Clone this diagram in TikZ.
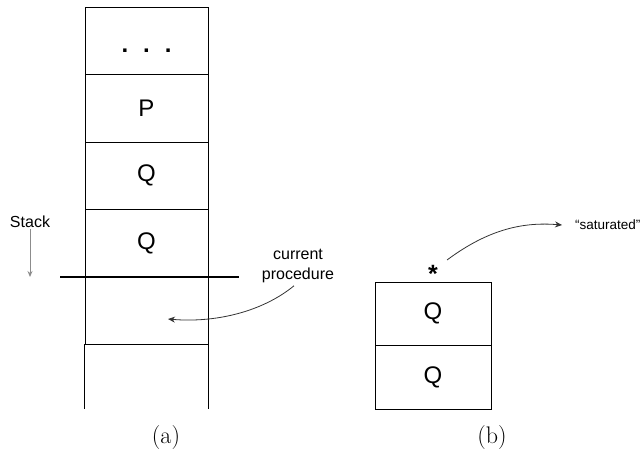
\documentclass[tikz,border=0pt]{standalone}
\usepackage{fontspec}
\setsansfont{Liberation Sans}
\usetikzlibrary{arrows.meta}

\begin{document}
\begin{tikzpicture}[x=1pt,y=-1pt,
  cellbig/.style={draw, line width=1pt, minimum width=123pt, minimum height=67.5pt,
    inner sep=0pt, font=\sffamily\fontsize{24}{28}\selectfont},
  cellsmall/.style={draw, line width=1pt, minimum width=116pt, minimum height=63.5pt,
    inner sep=0pt, font=\sffamily\fontsize{24}{28}\selectfont},
  note/.style={font=\sffamily\fontsize{16}{19.5}\selectfont, align=center, inner sep=1pt},
  caption/.style={font=\fontsize{24}{28}\selectfont, inner sep=0pt, anchor=base},
  pointer/.style={line width=0.8pt, draw=black!80, -{Stealth[length=7pt,width=6pt]}}]

  \useasboundingbox (0,0) rectangle (644,453);

  % stack (a)
  \node[cellbig, text height=24pt, text depth=0pt] (a1) at (146.5,40.75)
    {\textbf{.}\hspace{15pt}\textbf{.}\hspace{15pt}\textbf{.}};
  \node[cellbig] (a2) at (146.5,108.25) {P};
  \node[cellbig] (a3) at (146.5,175.75) {Q};
  \node[cellbig] (a4) at (146.5,243.25) {Q};
  \node[cellbig] (a5) at (146.5,310.75) {};
  \node[minimum width=123pt, minimum height=64.5pt, inner sep=0pt] (a6) at (146.5,376.75) {};
  \draw[line width=1pt] (a6.north west) -- (a6.south west)
                        (a6.north east) -- (a6.south east);

  % current-frame marker
  \coordinate (markL) at (60,277);
  \coordinate (markR) at (239,277);
  \draw[line width=2.4pt] (markL) -- (markR);

  % stack growth direction
  \node[note] (stk) at (30,222) {Stack};
  \coordinate (stkEnd) at (30,277);
  \draw[draw=black!45, line width=0.9pt, -{Stealth[length=6pt,width=5pt]}] (stk.south) -- (stkEnd);

  \node[note] (cur) at (298,266) {current\\procedure};
  \coordinate (curTip) at (168,319);
  \draw[pointer] (cur.south) ++(-4,2) .. controls (262,312) and (215,323) .. (curTip);

  % stack (b)
  \node[cellsmall] (b1) at (433,313.75) {Q};
  \node[cellsmall] (b2) at (433,377.25) {Q};
  \node[font=\sffamily\bfseries\fontsize{25}{28}\selectfont, inner sep=0pt] (star) at (433,274) {*};
  \node[note, font=\sffamily\fontsize{13.5}{16}\selectfont, anchor=west] (sat) at (574,225) {``saturated''};
  \draw[pointer] (447,260) .. controls (490,228) and (525,222) .. ([xshift=-12pt]sat.west);

  % captions
  \node[caption] (capa) at (166,443) {(a)};
  \node[caption] (capb) at (492,443) {(b)};
\end{tikzpicture}
\end{document}
